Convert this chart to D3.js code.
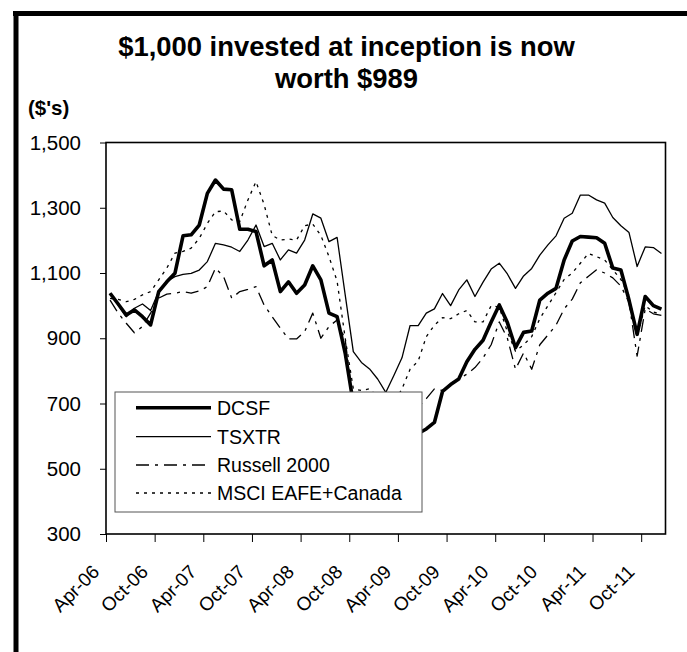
<!DOCTYPE html>
<html><head><meta charset="utf-8">
<script src="https://cdn.jsdelivr.net/npm/d3@7"></script>
<style>
html,body{margin:0;padding:0;background:#fff;}
svg{display:block;font-family:"Liberation Sans",Arial,sans-serif;}
</style></head>
<body><svg id="c" width="687" height="652"></svg>
<script>
// ---- data ----
const seriesNames = ["DCSF", "TSXTR", "Russell 2000", "MSCI EAFE+Canada"];
const tickLabels = ["Apr-06","Oct-06","Apr-07","Oct-07","Apr-08","Oct-08","Apr-09","Oct-09","Apr-10","Oct-10","Apr-11","Oct-11"];
const yTicks = [300, 500, 700, 900, 1100, 1300, 1500];
// monthly values Apr-06 .. Dec-11 (69 months)
const dcsf = [1038,1005,971,987,966,941,1043,1073,1099,1214,1217,1247,1344,1385,1357,1355,1234,1234,1227,1122,1140,1043,1073,1038,
  1063,1122,1079,977,966,854,700,660,640,620,600,585,595,600,608,622,642,737,758,775,828,866,894,950,1002,948,871,918,922,1017,
  1038,1053,1140,1198,1212,1210,1208,1191,1115,1109,1017,912,1028,1000,989];
const tsxtr = [1038,1002,966,992,1005,985,1043,1074,1089,1096,1099,1109,1135,1191,1186,1179,1166,1201,1247,1181,1191,1140,1171,1161,
  1201,1281,1268,1196,1209,1033,859,826,806,775,734,786,840,939,939,977,990,1037,1000,1048,1079,1028,1072,1112,1130,1097,1053,1091,1114,1155,
  1186,1214,1268,1283,1339,1339,1324,1314,1270,1245,1224,1120,1180,1178,1160];
const russell = [1017,977,946,917,936,977,1023,1035,1038,1043,1038,1045,1058,1115,1089,1023,1043,1050,1058,1002,966,931,898,898,
  920,977,900,936,956,895,700,650,600,560,540,560,600,650,690,715,745,740,760,775,790,810,840,880,950,900,805,855,805,880,
  910,940,990,1020,1070,1090,1110,1100,1085,1060,1010,845,990,975,970];
const msci = [1022,1019,1012,1019,1033,1043,1079,1115,1161,1166,1176,1206,1252,1288,1290,1263,1258,1324,1380,1310,1215,1201,1204,1201,
  1245,1250,1215,1150,1075,900,745,740,745,720,690,700,745,805,830,905,940,963,960,975,985,950,950,1000,995,920,860,880,905,960,
  1000,1040,1080,1100,1130,1160,1150,1140,1110,1080,1030,905,1000,980,975];
const allSeries = [dcsf, tsxtr, russell, msci];

// ---- styles ----
const styles = [
  {w:3.6, dash:null},
  {w:1.3, dash:null},
  {w:1.3, dash:"13,6,3,6"},
  {w:1.3, dash:"3,5"}
];

const svg = d3.select("#c");
const L = 106, R = 665.5, T = 142.5, B = 534;
const nMonths = dcsf.length;
const x = d3.scaleLinear().domain([0, nMonths]).range([L, R]);
const y = d3.scaleLinear().domain([300, 1500]).range([B, T]);

// outer frame (top + left thick rules)
svg.append("line").attr("x1",13).attr("x2",687).attr("y1",13.5).attr("y2",13.5).attr("stroke","#000").attr("stroke-width",5);
svg.append("line").attr("x1",16).attr("x2",16).attr("y1",11).attr("y2",652).attr("stroke","#000").attr("stroke-width",5);

// title
const title = svg.append("text").attr("text-anchor","middle").attr("font-weight","bold").attr("font-size",27.4);
title.append("tspan").attr("x",346.5).attr("y",55.5).text("$1,000 invested at inception is now");
title.append("tspan").attr("x",346.5).attr("y",88).text("worth $989");
svg.append("text").attr("x",28).attr("y",115).attr("font-weight","bold").attr("font-size",20.5).text("($'s)");

// y axis
const yAxis = svg.append("g").attr("transform",`translate(${L},0)`)
  .call(d3.axisLeft(y).tickValues(yTicks).tickFormat(d3.format(",")).tickSize(6).tickPadding(19));
yAxis.select(".domain").remove();
yAxis.selectAll("line").attr("stroke","#000");
yAxis.selectAll("text").attr("font-size",20.5).attr("font-family","Liberation Sans, Arial, sans-serif").attr("fill","#000");

// x axis ticks
const tickIdx = tickLabels.map((d,i)=>i*6);
const xAxis = svg.append("g").attr("transform",`translate(0,${B})`)
  .call(d3.axisBottom(x).tickValues(tickIdx).tickFormat("").tickSize(8));
xAxis.select(".domain").remove();
xAxis.selectAll("line").attr("stroke","#000");
svg.append("g").selectAll("text").data(tickLabels).join("text")
  .attr("transform",(d,i)=>`translate(${x(i*6)-5.5},${573}) rotate(-45)`)
  .attr("text-anchor","end").attr("font-size",19).text(d=>d);

// lines
const line = d3.line().x((d,i)=>x(i+0.5)).y(d=>y(d));
const gl = svg.append("g");
allSeries.forEach((s,k)=>{
  gl.append("path").datum(s).attr("d",line).attr("fill","none").attr("stroke","#000")
    .attr("stroke-width",styles[k].w).attr("stroke-dasharray",styles[k].dash)
    .attr("stroke-linejoin","round");
});

// plot border
svg.append("rect").attr("x",L).attr("y",T).attr("width",R-L).attr("height",B-T)
  .attr("fill","none").attr("stroke","#000").attr("stroke-width",1.6);

// legend
const lg = svg.append("g");
lg.append("rect").attr("x",115).attr("y",392).attr("width",307).attr("height",120)
  .attr("fill","#fff").attr("stroke","#555").attr("stroke-width",1);
const rowY = [407.7, 436.7, 465, 493];
seriesNames.forEach((n,k)=>{
  const yy = rowY[k];
  lg.append("line").attr("x1",136).attr("x2",211).attr("y1",yy).attr("y2",yy).attr("stroke","#000")
    .attr("stroke-width",styles[k].w).attr("stroke-dasharray",styles[k].dash);
  lg.append("text").attr("x",217).attr("y",yy+7.2).attr("font-size",19.5).text(n);
});
</script></body></html>
